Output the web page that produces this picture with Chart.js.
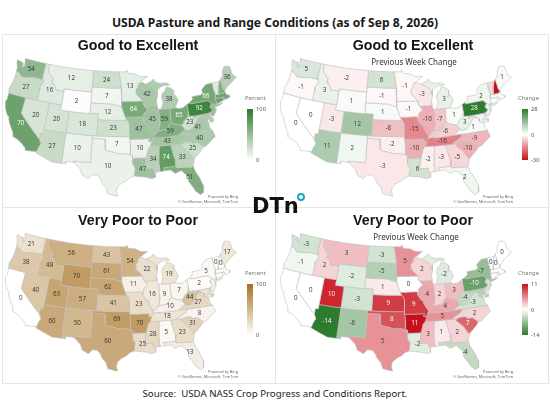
<!DOCTYPE html>
<html>
<head>
<meta charset="utf-8">
<script src="https://cdn.jsdelivr.net/npm/chart.js@4"></script>
<style>
  html, body { margin: 0; padding: 0; background: #fff; }
  body { width: 550px; height: 412px; position: relative; overflow: hidden; color: #1a1a1a; font-family: "Liberation Sans", sans-serif; }
  .abs { position: absolute; white-space: nowrap; }
  .frame { position: absolute; background: #e6e6e6; }
  canvas { position: absolute; }
  #mainTitle { left: 0; width: 550px; top: 14px; text-align: center; font: bold 12.1px "Noto Sans", sans-serif; }
  #source { left: 0; width: 550px; top: 387px; text-align: center; font: 9.7px "Noto Sans", sans-serif; color: #222; }
  .panelTitle { font: bold 14.2px "Liberation Sans", sans-serif; transform: translateX(-50%); color: #151515; }
  .panelSub { font: 8px "Noto Sans", sans-serif; transform: translateX(-50%); color: #333; }
  .legendName { font: 5.8px "Noto Sans", sans-serif; color: #777; }
  .legendTick { font: 5.8px "Noto Sans", sans-serif; color: #555; }
  .credit { font: 3.8px "Noto Sans", sans-serif; color: #666; text-align: right; line-height: 5px; }
  .bar { position: absolute; width: 6px; height: 51px; }
  #dtn { left: 252px; top: 194px; font: bold 21px/24px "DejaVu Sans", sans-serif; color: #111; }
  #dtnDot { position: absolute; left: 297px; top: 193px; width: 4px; height: 4px; border: 2px solid #1aa6c8; border-radius: 50%; }
</style>
</head>
<body>
<div class="abs" id="mainTitle">USDA Pasture and Range Conditions (as of Sep 8, 2026)</div>
<div class="abs" id="source">Source:&nbsp; USDA NASS Crop Progress and Conditions Report.</div>
<script>
const stateCodes = ['WA','OR','CA','NV','ID','MT','WY','UT','AZ','CO','NM','ND','SD','NE','KS','OK','TX','MN','IA','MO','AR','LA','WI','IL','MS','MI','IN','KY','TN','AL','OH','WV','VA','NC','SC','GA','FL','PA','NY','ME','VT','NH','MA','CT','RI','NJ','DE','MD'];

const goodToExcellent = [54,27,70,20,16,12,2,20,27,18,10,24,7,12,23,7,10,13,64,47,10,47,42,45,34,38,59,59,43,74,65,23,41,40,25,33,61,92,66,36,15,60,70,70,60,50,30,40];
const goodChange = [5,-1,0,0,3,-2,1,-3,11,12,2,6,-1,1,-8,-2,-3,-1,-1,-15,-10,6,-3,-10,-2,3,-7,-6,-16,-3,1,3,1,-9,-10,-5,2,28,2,1,-5,-30,1,0,0,3,-2,2];
const veryPoorToPoor = [21,38,0,40,48,56,70,63,60,57,50,43,61,62,41,69,60,54,11,23,70,25,22,16,28,19,9,10,18,5,7,44,27,8,31,23,13,2,5,17,0,0,2,2,0,10,15,20];
const poorChange = [-3,-1,0,0,2,3,-2,10,-14,-3,-6,-3,-5,1,9,8,5,5,0,9,11,-2,2,4,3,-2,2,4,5,1,3,-4,-3,2,7,2,-4,-10,-7,0,0,0,0,0,0,-3,-2,-5];
const topRowHidden = ['VT','NH','MA','CT','RI','NJ','DE','MD'];
const bottomRowHidden = ['MA','CT','RI','NJ','DE','MD'];

// state outlines, longitude / latitude
const outlines = {
  WA: [[[-124.7,48.4],[-123.1,48.15],[-122.7,47.3],[-122.35,47.5],[-122.5,48.2],[-122.8,49],[-117.03,49],[-117.04,46.4],[-116.92,45.99],[-118.98,46],[-119.3,45.93],[-121.2,45.65],[-122.3,45.55],[-122.8,45.9],[-123.4,46.2],[-124,46.25],[-124.1,46.9],[-124.6,47.9]]],
  OR: [[[-124,46.25],[-123.4,46.2],[-122.8,45.9],[-122.3,45.55],[-121.2,45.65],[-119.3,45.93],[-118.98,46],[-116.92,45.99],[-116.5,45.5],[-117.2,44.4],[-117.03,44],[-117.03,42],[-124.2,42],[-124.5,42.85],[-124.1,44],[-123.95,45.2]]],
  CA: [[[-124.2,42],[-120,42],[-120,39],[-114.63,35],[-114.15,34.3],[-114.5,33.6],[-114.72,32.72],[-117.12,32.53],[-117.3,33],[-118.4,33.75],[-119.2,34.15],[-120.6,34.55],[-120.65,35.15],[-121.9,36.6],[-122.5,37.5],[-122.5,37.8],[-123,38],[-123.75,39],[-124.35,40.3],[-124.1,41]]],
  NV: [[[-120,42],[-114.04,42],[-114.04,36.2],[-114.7,36.1],[-114.63,35],[-120,39]]],
  ID: [[[-117.03,49],[-116.05,49],[-116.05,48],[-115.7,47.45],[-114.7,46.7],[-114.35,46.65],[-114.5,45.6],[-113.95,45.7],[-113.45,45.05],[-113,44.45],[-112.3,44.55],[-111.05,44.5],[-111.05,42],[-117.03,42],[-117.03,44],[-117.2,44.4],[-116.5,45.5],[-116.92,45.99],[-117.04,46.4]]],
  MT: [[[-116.05,49],[-104.05,49],[-104.05,45],[-111.05,45],[-111.05,44.5],[-112.3,44.55],[-113,44.45],[-113.45,45.05],[-113.95,45.7],[-114.5,45.6],[-114.35,46.65],[-114.7,46.7],[-115.7,47.45],[-116.05,48]]],
  WY: [[[-111.05,45],[-104.05,45],[-104.05,41],[-111.05,41]]],
  UT: [[[-114.04,42],[-111.05,42],[-111.05,41],[-109.05,41],[-109.05,37],[-114.04,37]]],
  AZ: [[[-114.04,37],[-109.05,37],[-109.05,31.33],[-111.07,31.33],[-114.8,32.5],[-114.72,32.72],[-114.5,33.6],[-114.15,34.3],[-114.63,35],[-114.7,36.1],[-114.04,36.2]]],
  CO: [[[-109.05,41],[-102.05,41],[-102.05,37],[-109.05,37]]],
  NM: [[[-109.05,37],[-103,37],[-103,32],[-106.6,32],[-106.5,31.78],[-108.2,31.78],[-108.2,31.33],[-109.05,31.33]]],
  ND: [[[-104.05,49],[-97.23,49],[-96.85,47.6],[-96.56,45.94],[-104.05,45.94]]],
  SD: [[[-104.05,45.94],[-96.56,45.94],[-96.45,45.3],[-96.45,42.5],[-97.9,42.8],[-98.5,43],[-104.05,43]]],
  NE: [[[-104.05,43],[-98.5,43],[-97.9,42.8],[-96.45,42.5],[-96,41.5],[-95.3,40],[-102.05,40],[-102.05,41],[-104.05,41]]],
  KS: [[[-102.05,40],[-95.3,40],[-94.9,39.8],[-94.61,39.1],[-94.62,37],[-102.05,37]]],
  OK: [[[-103,37],[-94.62,37],[-94.62,36.5],[-94.43,35.4],[-94.48,33.64],[-95.5,33.9],[-97,33.85],[-98,34.1],[-99.2,34.3],[-100,34.56],[-100,36.5],[-103,36.5]]],
  TX: [[[-106.6,32],[-103,32],[-103,36.5],[-100,36.5],[-100,34.56],[-99.2,34.3],[-98,34.1],[-97,33.85],[-95.5,33.9],[-94.48,33.64],[-94.04,33.55],[-94.04,33],[-94.05,31.9],[-93.55,31.2],[-93.7,30.3],[-93.84,29.7],[-94.7,29.4],[-95.3,28.9],[-96.4,28.35],[-97.2,27.7],[-97.4,26.9],[-97.15,25.96],[-99.1,26.4],[-99.5,27.5],[-100.3,28.3],[-100.7,29.1],[-101.4,29.77],[-102.4,29.77],[-103.15,28.98],[-104.5,29.6],[-105,30.65],[-106.5,31.78]]],
  MN: [[[-97.23,49],[-95.15,49],[-95.15,49.38],[-94.6,48.7],[-92.9,48.6],[-91.4,48.05],[-89.6,48],[-92.1,46.75],[-92.3,46.1],[-92.9,45.6],[-92.75,44.75],[-91.2,43.5],[-96.45,43.5],[-96.45,45.3],[-96.56,45.94],[-96.85,47.6]]],
  IA: [[[-96.45,43.5],[-91.2,43.5],[-91.1,42.7],[-90.15,41.8],[-91.1,41.2],[-91.4,40.4],[-91.7,40.6],[-95.77,40.58],[-96,41.5],[-96.45,42.5]]],
  MO: [[[-95.77,40.58],[-91.7,40.6],[-91.4,40.4],[-91.5,40],[-90.7,39],[-90.15,38.8],[-90.2,38.4],[-89.5,37.3],[-89.15,37],[-89.4,36.5],[-89.7,36],[-90.37,36],[-90.15,36.5],[-94.62,36.5],[-94.62,37],[-94.61,39.1],[-94.9,39.8],[-95.3,40]]],
  AR: [[[-94.62,36.5],[-90.15,36.5],[-90.37,36],[-89.7,36],[-90.1,35],[-90.6,34.6],[-91.15,33],[-94.04,33],[-94.04,33.55],[-94.48,33.64],[-94.43,35.4]]],
  LA: [[[-94.04,33],[-91.15,33],[-91.6,31],[-89.73,31],[-89.85,30.65],[-89.5,30.2],[-89.4,30.05],[-89.4,29.3],[-90.2,29.1],[-91.3,29.4],[-92.3,29.55],[-93.84,29.7],[-93.7,30.3],[-93.55,31.2],[-94.05,31.9]]],
  WI: [[[-92.1,46.75],[-90.9,46.95],[-90.4,46.55],[-88.8,46.05],[-87.8,45.35],[-87.6,45.1],[-88,44.55],[-87.3,45.25],[-87.5,44.2],[-87.9,43],[-87.8,42.5],[-90.65,42.5],[-91.1,42.7],[-91.2,43.5],[-92.75,44.75],[-92.9,45.6],[-92.3,46.1]]],
  IL: [[[-90.65,42.5],[-87.8,42.5],[-87.5,41.7],[-87.53,39.3],[-87.6,38.7],[-88.05,37.8],[-88.45,37.4],[-89.15,37],[-89.5,37.3],[-90.2,38.4],[-90.15,38.8],[-90.7,39],[-91.5,40],[-91.4,40.4],[-91.1,41.2],[-90.15,41.8]]],
  MS: [[[-90.1,35],[-88.2,35],[-88.1,34.9],[-88.47,31.9],[-88.4,30.3],[-89.5,30.2],[-89.85,30.65],[-89.73,31],[-91.6,31],[-91.15,33],[-90.6,34.6]]],
  MI: [[[-90.4,46.55],[-89,46.95],[-88,47.45],[-87.7,46.85],[-86.5,46.5],[-84.8,46.5],[-84,46],[-85.5,46.05],[-86.5,45.85],[-87.6,45.1],[-87.8,45.35],[-88.8,46.05]],
       [[-86.8,41.76],[-86.25,43],[-86.5,44],[-86.1,44.75],[-85.5,45],[-85,45.75],[-84.1,45.5],[-83.3,45],[-83.4,44.1],[-83.9,43.7],[-83,44.05],[-82.45,43],[-83.1,42.2],[-83.45,41.73],[-84.8,41.7]]],
  IN: [[[-87.5,41.7],[-87.2,41.76],[-86.8,41.76],[-84.8,41.7],[-84.82,39.1],[-85.4,38.7],[-85.9,38],[-86.8,37.95],[-88.05,37.8],[-87.6,38.7],[-87.53,39.3]]],
  KY: [[[-89.15,37],[-88.45,37.4],[-88.05,37.8],[-86.8,37.95],[-85.9,38],[-85.4,38.7],[-84.82,39.1],[-83.7,38.65],[-82.6,38.42],[-81.97,37.54],[-83.68,36.6],[-88.07,36.5],[-88.07,36.68],[-89.4,36.5]]],
  TN: [[[-89.7,36],[-89.4,36.5],[-88.07,36.68],[-88.07,36.5],[-83.68,36.6],[-81.68,36.59],[-82,36.1],[-84.3,35],[-90.1,35]]],
  AL: [[[-88.2,35],[-85.6,35],[-85.18,32.87],[-85,32.3],[-85,31],[-87.6,31],[-87.45,30.4],[-88.4,30.25],[-88.47,31.9]]],
  OH: [[[-84.8,41.7],[-83.45,41.73],[-82.7,41.5],[-81.7,41.5],[-80.52,41.98],[-80.52,40.64],[-80.85,39.7],[-81.7,39.2],[-82.2,38.6],[-82.6,38.42],[-83.7,38.65],[-84.82,39.1]]],
  WV: [[[-81.97,37.54],[-82.6,38.42],[-82.2,38.6],[-81.7,39.2],[-80.85,39.7],[-80.52,40.64],[-80.52,39.72],[-79.48,39.72],[-79.48,39.2],[-78.4,39.62],[-77.72,39.32],[-77.8,39.15],[-78.35,39.4],[-79.3,38.4],[-80.3,37.5],[-81.3,37.3]]],
  VA: [[[-83.68,36.6],[-81.97,37.54],[-81.3,37.3],[-80.3,37.5],[-79.3,38.4],[-78.35,39.4],[-77.8,39.15],[-77.1,38.85],[-77.3,38.4],[-76.3,37.9],[-76.3,37],[-75.87,36.55],[-81.68,36.59]]],
  NC: [[[-84.3,35],[-82,36.1],[-81.68,36.59],[-75.87,36.55],[-75.5,35.3],[-76.6,34.7],[-77.9,33.9],[-78.55,33.86],[-79.67,34.8],[-80.8,34.8],[-81,35.15],[-82.3,35.2],[-83.1,35]]],
  SC: [[[-83.35,34.7],[-83.1,35],[-82.3,35.2],[-81,35.15],[-80.8,34.8],[-79.67,34.8],[-78.55,33.86],[-79.2,33.2],[-80,32.6],[-80.85,32],[-81.1,32.1],[-81.9,33.4]]],
  GA: [[[-85.6,35],[-83.1,35],[-83.35,34.7],[-81.9,33.4],[-81.1,32.1],[-80.85,32],[-81.4,30.7],[-82.05,30.36],[-82.2,30.57],[-84.86,30.7],[-85,31],[-85,32.3],[-85.18,32.87]]],
  FL: [[[-87.6,31],[-85,31],[-84.86,30.7],[-82.2,30.57],[-82.05,30.36],[-81.4,30.7],[-81.2,29.7],[-80.5,28.3],[-80.03,26.8],[-80.2,25.5],[-80.9,25.15],[-81.7,25.9],[-82.2,26.9],[-82.8,27.9],[-82.7,28.8],[-83.5,29.6],[-84,30.1],[-85.3,29.7],[-86.2,30.4],[-87.45,30.4]]],
  PA: [[[-80.52,41.98],[-79.76,42.27],[-79.76,42],[-75.35,42],[-74.7,41.36],[-75.13,40.97],[-75.2,40.65],[-74.72,40.15],[-75.45,39.8],[-75.79,39.72],[-80.52,39.72]]],
  NY: [[[-79.76,42.27],[-78.9,42.85],[-79.05,43.27],[-76.8,43.3],[-76.2,43.55],[-76.3,44.2],[-75,44.98],[-73.35,45.01],[-73.4,43.8],[-73.25,42.75],[-73.5,42.05],[-73.5,41.3],[-73.65,41],[-73.75,40.85],[-72,41.05],[-72.6,40.8],[-74,40.58],[-73.9,41],[-74.7,41.36],[-75.35,42],[-79.76,42]]],
  ME: [[[-71.08,45.3],[-70.4,45.75],[-70,46.7],[-69.2,47.45],[-68.3,47.35],[-67.8,47.07],[-67.8,45.7],[-67,44.9],[-68.5,44.25],[-69.8,43.75],[-70.7,43.07],[-70.98,43.4]]],
  VT: [[[-73.35,45.01],[-71.5,45.01],[-72.05,44.1],[-72.45,43],[-72.46,42.73],[-73.25,42.75],[-73.4,43.8]]],
  NH: [[[-71.5,45.01],[-71.08,45.3],[-70.98,43.4],[-70.7,43.07],[-70.8,42.87],[-71.3,42.7],[-72.46,42.73],[-72.45,43],[-72.05,44.1]]],
  MA: [[[-73.25,42.75],[-71.3,42.7],[-70.8,42.87],[-70.65,42.3],[-70,42.05],[-70,41.65],[-70.7,41.55],[-71.15,41.5],[-71.38,42.02],[-71.8,42.02],[-73.5,42.05]]],
  CT: [[[-73.5,42.05],[-71.8,42.02],[-71.8,41.4],[-73.65,41],[-73.5,41.3]]],
  RI: [[[-71.8,42.02],[-71.38,42.02],[-71.15,41.5],[-71.8,41.4]]],
  NJ: [[[-74.7,41.36],[-73.9,41],[-74.25,40.47],[-73.98,40.4],[-74.1,39.75],[-74.9,38.95],[-75.55,39.5],[-74.72,40.15],[-75.2,40.65],[-75.13,40.97]]],
  DE: [[[-75.79,39.72],[-75.45,39.8],[-75.55,39.45],[-75.05,38.45],[-75.7,38.46]]],
  MD: [[[-79.48,39.72],[-75.79,39.72],[-75.7,38.46],[-75.05,38.45],[-75.25,38.03],[-75.9,37.95],[-76.2,38.8],[-76.45,38.4],[-76.3,37.9],[-77.3,38.4],[-77.1,38.85],[-77.8,39.15],[-77.72,39.32],[-78.4,39.62],[-79.48,39.2]]]
};

// Albers conic, same parallels a US map normally uses
const rad = Math.PI / 180;
const n = (Math.sin(29.5 * rad) + Math.sin(45.5 * rad)) / 2;
const C = Math.cos(29.5 * rad) ** 2 + 2 * n * Math.sin(29.5 * rad);
const rho0 = Math.sqrt(C - 2 * n * Math.sin(37.5 * rad)) / n;
function project(p) {
  const rho = Math.sqrt(C - 2 * n * Math.sin(p[1] * rad)) / n;
  const theta = n * (p[0] + 96) * rad;
  return { x: rho * Math.sin(theta), y: rho0 - rho * Math.cos(theta) };
}

// long borders follow the parallel instead of cutting straight across
function ring(poly) {
  const pts = [];
  poly.forEach((p, i) => {
    const q = poly[(i + 1) % poly.length];
    const steps = Math.max(1, Math.ceil(Math.abs(q[0] - p[0]) / 2));
    for (let s = 0; s < steps; s++) {
      pts.push(project([p[0] + (q[0] - p[0]) * s / steps, p[1] + (q[1] - p[1]) * s / steps]));
    }
  });
  pts.push(pts[0]);
  return pts;
}

function centroid(pts) {
  let a = 0, cx = 0, cy = 0;
  for (let i = 0; i < pts.length - 1; i++) {
    const f = pts[i].x * pts[i + 1].y - pts[i + 1].x * pts[i].y;
    a += f;
    cx += (pts[i].x + pts[i + 1].x) * f;
    cy += (pts[i].y + pts[i + 1].y) * f;
  }
  return { x: cx / (3 * a), y: cy / (3 * a) };
}

function mix(c, t) {
  return [0, 1, 2].map(i => Math.round(255 + (c[i] - 255) * t));
}

const green = [46, 122, 46], brown = [165, 112, 31], red = [200, 16, 26];

function percentColor(top) {
  return v => mix(top, v / 100);
}
function changeColor(upColor, upMax, downColor, downMin) {
  return v => v >= 0 ? mix(upColor, v / upMax) : mix(downColor, v / downMin);
}

const panels = [
  { left: 0, top: 0, title: 'Good to Excellent', values: goodToExcellent, hidden: topRowHidden, color: percentColor(green), name: 'Percent',
    ticks: ['100', '0'], grad: 'rgb(46,122,46), #fff' },
  { left: 275, top: 0, title: 'Good to Excellent', sub: 'Previous Week Change', values: goodChange, hidden: topRowHidden, color: changeColor(green, 28, red, -30), name: 'Change',
    ticks: ['28', '0', '-30'], grad: 'rgb(46,122,46), #fff, rgb(200,16,26)' },
  { left: 0, top: 175, title: 'Very Poor to Poor', values: veryPoorToPoor, hidden: bottomRowHidden, color: percentColor(brown), name: 'Percent',
    ticks: ['100', '0'], grad: 'rgb(165,112,31), #fff' },
  { left: 275, top: 175, title: 'Very Poor to Poor', sub: 'Previous Week Change', values: poorChange, hidden: bottomRowHidden, color: changeColor(red, 11, green, -14), name: 'Change',
    ticks: ['11', '0', '-14'], grad: 'rgb(200,16,26), #fff, rgb(46,122,46)' }
];

function labelPlugin(values, color, hidden) {
  return {
    id: 'stateLabels',
    afterDatasetsDraw(chart) {
      const ctx = chart.ctx;
      ctx.save();
      ctx.font = '6.2px "Open Sans", sans-serif';
      ctx.textAlign = 'center';
      ctx.textBaseline = 'middle';
      stateCodes.forEach((code, i) => {
        if (hidden.includes(code)) return;
        const parts = outlines[code];
        const c = centroid(ring(parts[parts.length - 1]));
        const rgb = color(values[i]);
        const lum = 0.3 * rgb[0] + 0.59 * rgb[1] + 0.11 * rgb[2];
        ctx.fillStyle = lum < 150 ? '#fff' : '#333';
        ctx.fillText(values[i], chart.scales.x.getPixelForValue(c.x), chart.scales.y.getPixelForValue(c.y));
      });
      ctx.restore();
    }
  };
}

function addDiv(cls, left, top, text) {
  const d = document.createElement('div');
  d.className = 'abs ' + cls;
  d.style.left = left + 'px';
  d.style.top = top + 'px';
  if (text) d.innerHTML = text;
  document.body.appendChild(d);
  return d;
}

// panel frame lines
[[2, 34, 546, 1], [2, 207, 546, 1], [2, 383, 546, 1], [2, 34, 1, 350], [275, 34, 1, 350], [548, 34, 1, 350]].forEach(r => {
  const d = document.createElement('div');
  d.className = 'frame';
  d.style.cssText = `left:${r[0]}px;top:${r[1]}px;width:${r[2]}px;height:${r[3]}px`;
  document.body.appendChild(d);
});

panels.forEach(p => {
  const canvas = document.createElement('canvas');
  canvas.width = 272;
  canvas.height = 172;
  canvas.style.left = (p.left + 2) + 'px';
  canvas.style.top = (p.top + 34) + 'px';
  document.body.appendChild(canvas);

  const datasets = [];
  stateCodes.forEach((code, i) => {
    const rgb = p.color(p.values[i]);
    outlines[code].forEach(part => {
      datasets.push({
        label: code,
        data: ring(part),
        showLine: true,
        fill: 'shape',
        tension: 0,
        pointRadius: 0,
        borderWidth: 0.6,
        borderColor: '#c0c0c0',
        backgroundColor: `rgb(${rgb.join(',')})`
      });
    });
  });

  new Chart(canvas, {
    type: 'scatter',
    data: { datasets },
    plugins: [labelPlugin(p.values, p.color, p.hidden)],
    options: {
      responsive: false,
      animation: false,
      events: [],
      layout: { padding: 0 },
      scales: {
        x: { type: 'linear', display: false, min: -0.379, max: 0.470 },
        y: { type: 'linear', display: false, min: -0.2335, max: 0.324 }
      },
      plugins: {
        legend: { display: false },
        tooltip: { enabled: false }
      }
    }
  });

  addDiv('panelTitle', p.left + 138, p.top + 37, p.title);
  if (p.sub) addDiv('panelSub', p.left + (p.top ? 141 : 139), p.top + 56, p.sub);

  const nameLeft = p.name === 'Percent' ? 245 : 243;
  addDiv('legendName', p.left + nameLeft, p.top + 94, p.name);
  const bar = document.createElement('div');
  bar.className = 'bar';
  bar.style.left = (p.left + 247) + 'px';
  bar.style.top = (p.top + 109) + 'px';
  bar.style.background = `linear-gradient(to bottom, ${p.grad})`;
  document.body.appendChild(bar);
  p.ticks.forEach((t, i) => {
    addDiv('legendTick', p.left + 256, p.top + 105 + i * 51 / (p.ticks.length - 1), t);
  });
  const credit = addDiv('credit', p.left + 170, p.top + 194, 'Powered by Bing<br>© GeoNames, Microsoft, TomTom');
  credit.style.width = '68px';
});

addDiv('', 252, 194, 'DTn').id = 'dtn';
const dot = document.createElement('div');
dot.id = 'dtnDot';
document.body.appendChild(dot);
</script>
</body>
</html>
